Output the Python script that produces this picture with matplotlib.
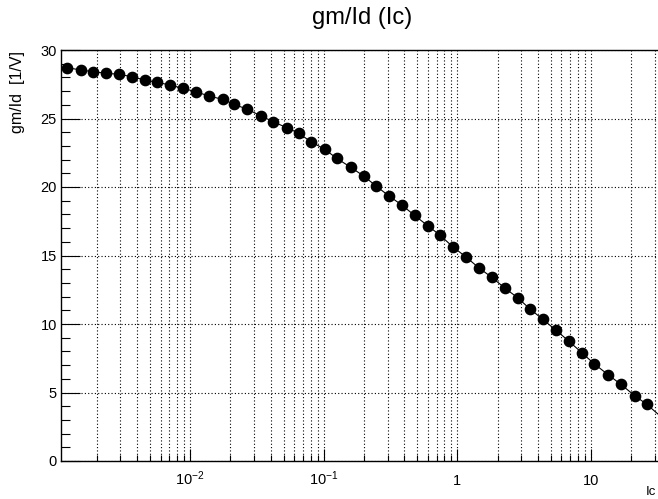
import matplotlib
matplotlib.use('Agg')
import matplotlib.pyplot as plt
from matplotlib.ticker import FixedLocator, NullFormatter, LogLocator, MultipleLocator

# Data
ic = [0.00120, 0.00152, 0.00187, 0.00234, 0.00292, 0.00366, 0.00458, 0.00563,
      0.00704, 0.00881, 0.0110, 0.0138, 0.0175, 0.0212, 0.0265, 0.0338, 0.0416,
      0.0529, 0.0650, 0.0800, 0.1017, 0.125, 0.159, 0.199, 0.245, 0.306, 0.383,
      0.479, 0.600, 0.738, 0.922, 1.153, 1.443, 1.805, 2.26, 2.82, 3.47, 4.35,
      5.44, 6.80, 8.51, 10.6, 13.5, 16.7, 21.2, 26.1, 35.1]
gm_id = [28.71, 28.54, 28.42, 28.30, 28.23, 28.05, 27.81, 27.64, 27.45, 27.20,
         26.96, 26.64, 26.40, 26.04, 25.69, 25.20, 24.77, 24.33, 23.92, 23.31,
         22.75, 22.09, 21.44, 20.80, 20.09, 19.36, 18.69, 17.92, 17.17, 16.50,
         15.64, 14.91, 14.11, 13.41, 12.63, 11.92, 11.12, 10.34, 9.56, 8.76,
         7.91, 7.08, 6.28, 5.60, 4.77, 4.14, 3.05]
xtick_vals = [0.01, 0.1, 1, 10]
xtick_labels = ['$10^{-2}$', '$10^{-1}$', '1', '10']
ytick_vals = [0, 5, 10, 15, 20, 25, 30]
ytick_labels = ['0', '5', '10', '15', '20', '25', '30']

plt.rcParams['font.family'] = ['Liberation Sans', 'DejaVu Sans']
plt.rcParams['mathtext.fontset'] = 'custom'
plt.rcParams['mathtext.rm'] = 'Liberation Sans'
plt.rcParams['mathtext.it'] = 'Liberation Sans:italic'
plt.rcParams['mathtext.default'] = 'regular'

W, H = 658, 499
fig = plt.figure(figsize=(W / 100, H / 100), dpi=100)
ax = fig.add_axes([61 / W, 38 / H, 597 / W, 411 / H])
ax.set_xscale('log')
ax.set_xlim(0.00108, 31.7)
ax.set_ylim(0, 30)

ax.plot(ic, gm_id, color='black', lw=0.8, marker='o', ms=7.4,
        mfc='black', mec='black', zorder=3)

ax.xaxis.set_major_locator(FixedLocator(xtick_vals))
ax.set_xticklabels(xtick_labels)
ax.xaxis.set_minor_locator(LogLocator(base=10, subs=[2, 3, 4, 5, 6, 7, 8, 9], numticks=20))
ax.xaxis.set_minor_formatter(NullFormatter())
ax.yaxis.set_major_locator(FixedLocator(ytick_vals))
ax.set_yticklabels(ytick_labels)
ax.yaxis.set_minor_locator(MultipleLocator(1))

dot = (0, (1, 2))
ax.grid(which='both', axis='x', ls=dot, color='black', lw=0.8)
ax.grid(which='major', axis='y', ls=dot, color='black', lw=0.8)

ax.tick_params(axis='x', which='major', direction='in', length=8.6, width=0.8,
               labelsize=10.5, pad=17, top=False)
ax.tick_params(axis='x', which='minor', direction='in', length=4.3, width=0.8, top=False)
ax.tick_params(axis='y', which='major', direction='in', length=13.5, width=0.8,
               labelsize=10.5, pad=3, right=False)
ax.tick_params(axis='y', which='minor', direction='in', length=6.5, width=0.8, right=False)
for lab in ax.get_xticklabels():
    lab.set_va('baseline')

for s in ['left', 'bottom', 'top']:
    ax.spines[s].set_linewidth(1.0)
ax.spines['right'].set_visible(False)

fig.text(362 / W, 1 - 18 / H, 'gm/Id (Ic)', ha='center', va='center', fontsize=17)
fig.text(656 / W, 4 / H, 'Ic', ha='right', va='baseline', fontsize=9.5)
fig.text(18 / W, 1 - 51 / H, 'gm/Id  [1/V]', ha='center', va='top',
         rotation=90, fontsize=11.5)

fig.savefig('out.png', dpi=100)
